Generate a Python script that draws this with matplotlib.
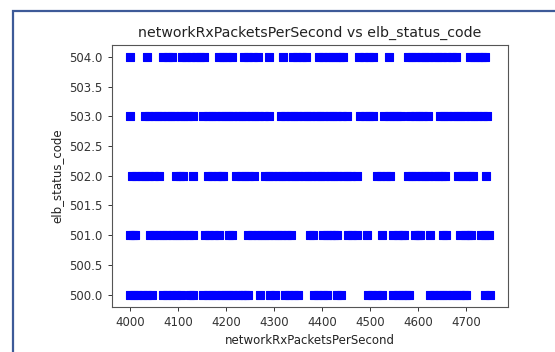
import matplotlib
matplotlib.use("Agg")
import matplotlib.pyplot as plt
from matplotlib.patches import Rectangle

x_504 = [4000, 4037, 4069, 4079, 4089, 4109, 4118, 4127, 4137, 4146, 4155,
         4185, 4194, 4203, 4212, 4237, 4247, 4257, 4267, 4291, 4320,
         4340, 4349, 4358, 4367, 4394, 4403, 4412, 4421, 4430, 4438, 4444,
         4478, 4488, 4498, 4507, 4540,
         4579, 4588, 4597, 4606, 4615, 4624, 4633, 4642, 4651, 4660, 4670, 4680,
         4708, 4717, 4726, 4734, 4740]
x_503 = [4001, 4032, 4041, 4050, 4059, 4068, 4077, 4086, 4095, 4104, 4113, 4122, 4132,
         4153, 4162, 4171, 4180, 4189, 4198, 4207, 4216, 4225, 4234, 4243, 4252, 4261,
         4270, 4279, 4289,
         4315, 4324, 4333, 4342, 4351, 4360, 4369, 4378, 4387, 4396, 4405, 4414, 4423,
         4432, 4441, 4453,
         4480, 4489, 4498, 4507, 4530, 4539, 4548, 4557, 4565,
         4584, 4593, 4602, 4611, 4622,
         4645, 4654, 4663, 4672, 4681, 4690, 4699, 4708, 4717, 4726, 4735, 4744]
x_502 = [4005, 4014, 4023, 4032, 4041, 4050, 4062, 4096, 4104, 4111, 4131,
         4163, 4172, 4181, 4189, 4195, 4222, 4231, 4240, 4249, 4259,
         4281, 4290, 4299, 4308, 4317, 4326, 4335, 4344, 4353, 4362, 4371, 4380, 4389,
         4398, 4407, 4416, 4425, 4434, 4443, 4452, 4461, 4473,
         4515, 4524, 4533, 4542,
         4579, 4588, 4597, 4606, 4615, 4624, 4633, 4642, 4650, 4656,
         4683, 4692, 4701, 4709, 4715, 4742]
x_501 = [4000, 4006, 4012, 4042, 4051, 4060, 4069, 4078, 4087, 4096, 4105, 4114, 4123, 4132,
         4157, 4166, 4175, 4186, 4207, 4212,
         4246, 4255, 4264, 4273, 4282, 4291, 4300, 4309, 4318, 4327, 4336,
         4375, 4382, 4402, 4411, 4420, 4426, 4432, 4454, 4463, 4474, 4494, 4526,
         4549, 4558, 4566, 4572, 4594, 4600, 4604, 4625, 4653, 4659,
         4688, 4697, 4704, 4710, 4732, 4740, 4747]
x_500 = [4000, 4009, 4018, 4027, 4036, 4047, 4069, 4078, 4087, 4096, 4106, 4126, 4132,
         4153, 4162, 4171, 4180, 4189, 4198, 4207, 4216, 4225, 4234, 4241, 4247,
         4272, 4293, 4303, 4323, 4332, 4341, 4351, 4384, 4393, 4402, 4411, 4431, 4439,
         4496, 4505, 4515, 4525, 4549, 4558, 4567, 4575, 4582,
         4625, 4634, 4643, 4652, 4661, 4670, 4679, 4688, 4695, 4700, 4740, 4750]

status_codes = [500.0, 501.0, 502.0, 503.0, 504.0]
series = [x_500, x_501, x_502, x_503, x_504]

xs, ys = [], []
for code, xv in zip(status_codes, series):
    xs.extend(xv)
    ys.extend([code] * len(xv))

W, H = 555, 352
fig = plt.figure(figsize=(W / 100, H / 100), dpi=100)
ax = fig.add_axes([111.7 / W, 1 - 306.5 / H, (508 - 111.7) / W, (306.5 - 45) / H])

ax.scatter(xs, ys, marker='s', s=28, c='b', edgecolors='face', linewidths=0.8)

ax.set_title("networkRxPacketsPerSecond vs elb_status_code", fontsize=10.2, color='#222222')
ax.set_xlabel("networkRxPacketsPerSecond", fontsize=8.5, color='#222222')
ax.set_ylabel("elb_status_code", fontsize=8.5, color='#222222')
ax.tick_params(labelsize=8.5, length=3, width=0.7, colors='#333333')
for sp in ax.spines.values():
    sp.set_linewidth(0.8)
    sp.set_color('#555555')

frame = Rectangle((13 / W, -0.1), 1.2, 1 - 11 / H + 0.1, transform=fig.transFigure,
                  fill=False, edgecolor='#3d5a98', linewidth=1.6)
fig.patches.append(frame)

fig.savefig("out.png", dpi=100)
